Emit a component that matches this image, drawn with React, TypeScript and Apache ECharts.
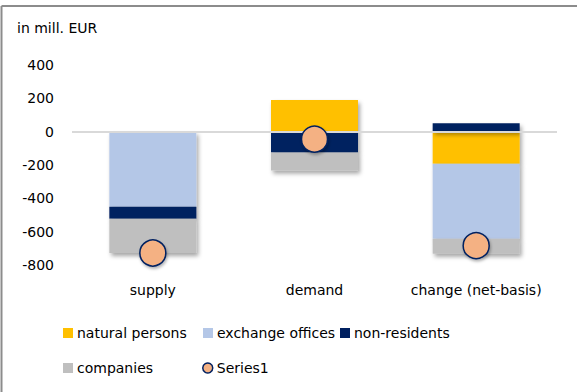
import React, { useEffect, useRef } from "react";
import * as echarts from "echarts";

const categories = ["supply", "demand", "change (net-basis)"];
const naturalPersons = [0, 190, -193];
const exchangeOffices = [-450, 0, -450];
const nonResidents = [-73, -125, 50];
const companies = [-205, -108, -89];
const series1 = [-728, -45, -684];
const yTicks = { min: -800, max: 400, interval: 200 };
const unitLabel = "in mill. EUR";

const FONT = "DejaVu Sans";
const COLORS = {
  natural: "#FFC000",
  exchange: "#B4C7E7",
  nonres: "#002060",
  companies: "#BFBFBF",
  dotFill: "#F4B183",
  dotBorder: "#002060",
};

export default function App() {
  const ref = useRef<HTMLDivElement>(null);
  useEffect(() => {
    if (!ref.current) return;
    const chart = echarts.init(ref.current, undefined, { renderer: "svg" });
    const shadow = {
      shadowColor: "rgba(0,0,0,0.35)",
      shadowBlur: 4,
      shadowOffsetX: 2,
      shadowOffsetY: 3,
    };
    const barSeries = (name: string, data: number[], color: string) => ({
      name,
      type: "bar",
      stack: "total",
      data,
      barWidth: 87,
      z: 2,
      itemStyle: { color, ...shadow },
    });
    const legendItem = (name: string, left: number, top: number, icon: string, itemStyle: any) => ({
      show: true,
      left,
      top,
      orient: "horizontal",
      itemWidth: 10,
      itemHeight: 10,
      padding: 0,
      selectedMode: false,
      textStyle: { fontFamily: FONT, fontSize: 14, color: "#000", padding: [0, 0, 0, -1] },
      data: [{ name, icon, itemStyle }],
    });
    chart.setOption({
      animation: false,
      textStyle: { fontFamily: FONT },
      grid: { left: 72, right: 20, top: 65, bottom: 127, containLabel: false },
      xAxis: {
        type: "category",
        data: categories,
        axisLine: { show: false },
        axisTick: { show: false },
        axisLabel: { fontFamily: FONT, fontSize: 14, color: "#000", margin: 18, interval: 0 },
      },
      yAxis: {
        type: "value",
        min: yTicks.min,
        max: yTicks.max,
        interval: yTicks.interval,
        splitLine: { show: false },
        axisLine: { show: false },
        axisTick: { show: false },
        axisLabel: { fontFamily: FONT, fontSize: 14, color: "#000", margin: 18 },
      },
      legend: [
        legendItem("natural persons", 63, 326, "rect", { color: COLORS.natural }),
        legendItem("exchange offices", 203, 326, "rect", { color: COLORS.exchange }),
        legendItem("non-residents", 340, 326, "rect", { color: COLORS.nonres }),
        legendItem("companies", 63, 361, "rect", { color: COLORS.companies }),
        legendItem("Series1", 202, 361, "circle", {
          color: COLORS.dotFill,
          borderColor: COLORS.dotBorder,
          borderWidth: 1.5,
        }),
      ],
      graphic: [
        {
          type: "line",
          shape: { x1: 1.5, y1: 6, x2: 577, y2: 6 },
          style: { stroke: "#8c8c8c", lineWidth: 2 },
        },
        {
          type: "line",
          shape: { x1: 1.5, y1: 6, x2: 1.5, y2: 392 },
          style: { stroke: "#8c8c8c", lineWidth: 2 },
        },
        {
          type: "text",
          left: 17,
          top: 21,
          style: { text: unitLabel, fontFamily: FONT, fontSize: 14, fill: "#000" },
        },
      ],
      series: [
        {
          name: "zero",
          type: "line",
          data: [],
          z: 1,
          silent: true,
          markLine: {
            silent: true,
            symbol: "none",
            label: { show: false },
            lineStyle: { color: "#D9D9D9", width: 2, type: "solid" },
            data: [{ yAxis: 0 }],
          },
        },
        barSeries("natural persons", naturalPersons, COLORS.natural),
        barSeries("exchange offices", exchangeOffices, COLORS.exchange),
        barSeries("non-residents", nonResidents, COLORS.nonres),
        barSeries("companies", companies, COLORS.companies),
        {
          name: "Series1",
          type: "scatter",
          data: series1,
          symbol: "circle",
          symbolSize: 26,
          z: 5,
          itemStyle: {
            color: COLORS.dotFill,
            borderColor: COLORS.dotBorder,
            borderWidth: 1.5,
            opacity: 1,
            shadowColor: "rgba(0,0,0,0.3)",
            shadowBlur: 3,
            shadowOffsetX: 1,
            shadowOffsetY: 2,
          },
        },
      ],
    });
    return () => chart.dispose();
  }, []);
  return (
    <div
      ref={ref}
      style={{ position: "fixed", left: 0, top: 0, width: 577, height: 392, background: "#fff" }}
    />
  );
}
